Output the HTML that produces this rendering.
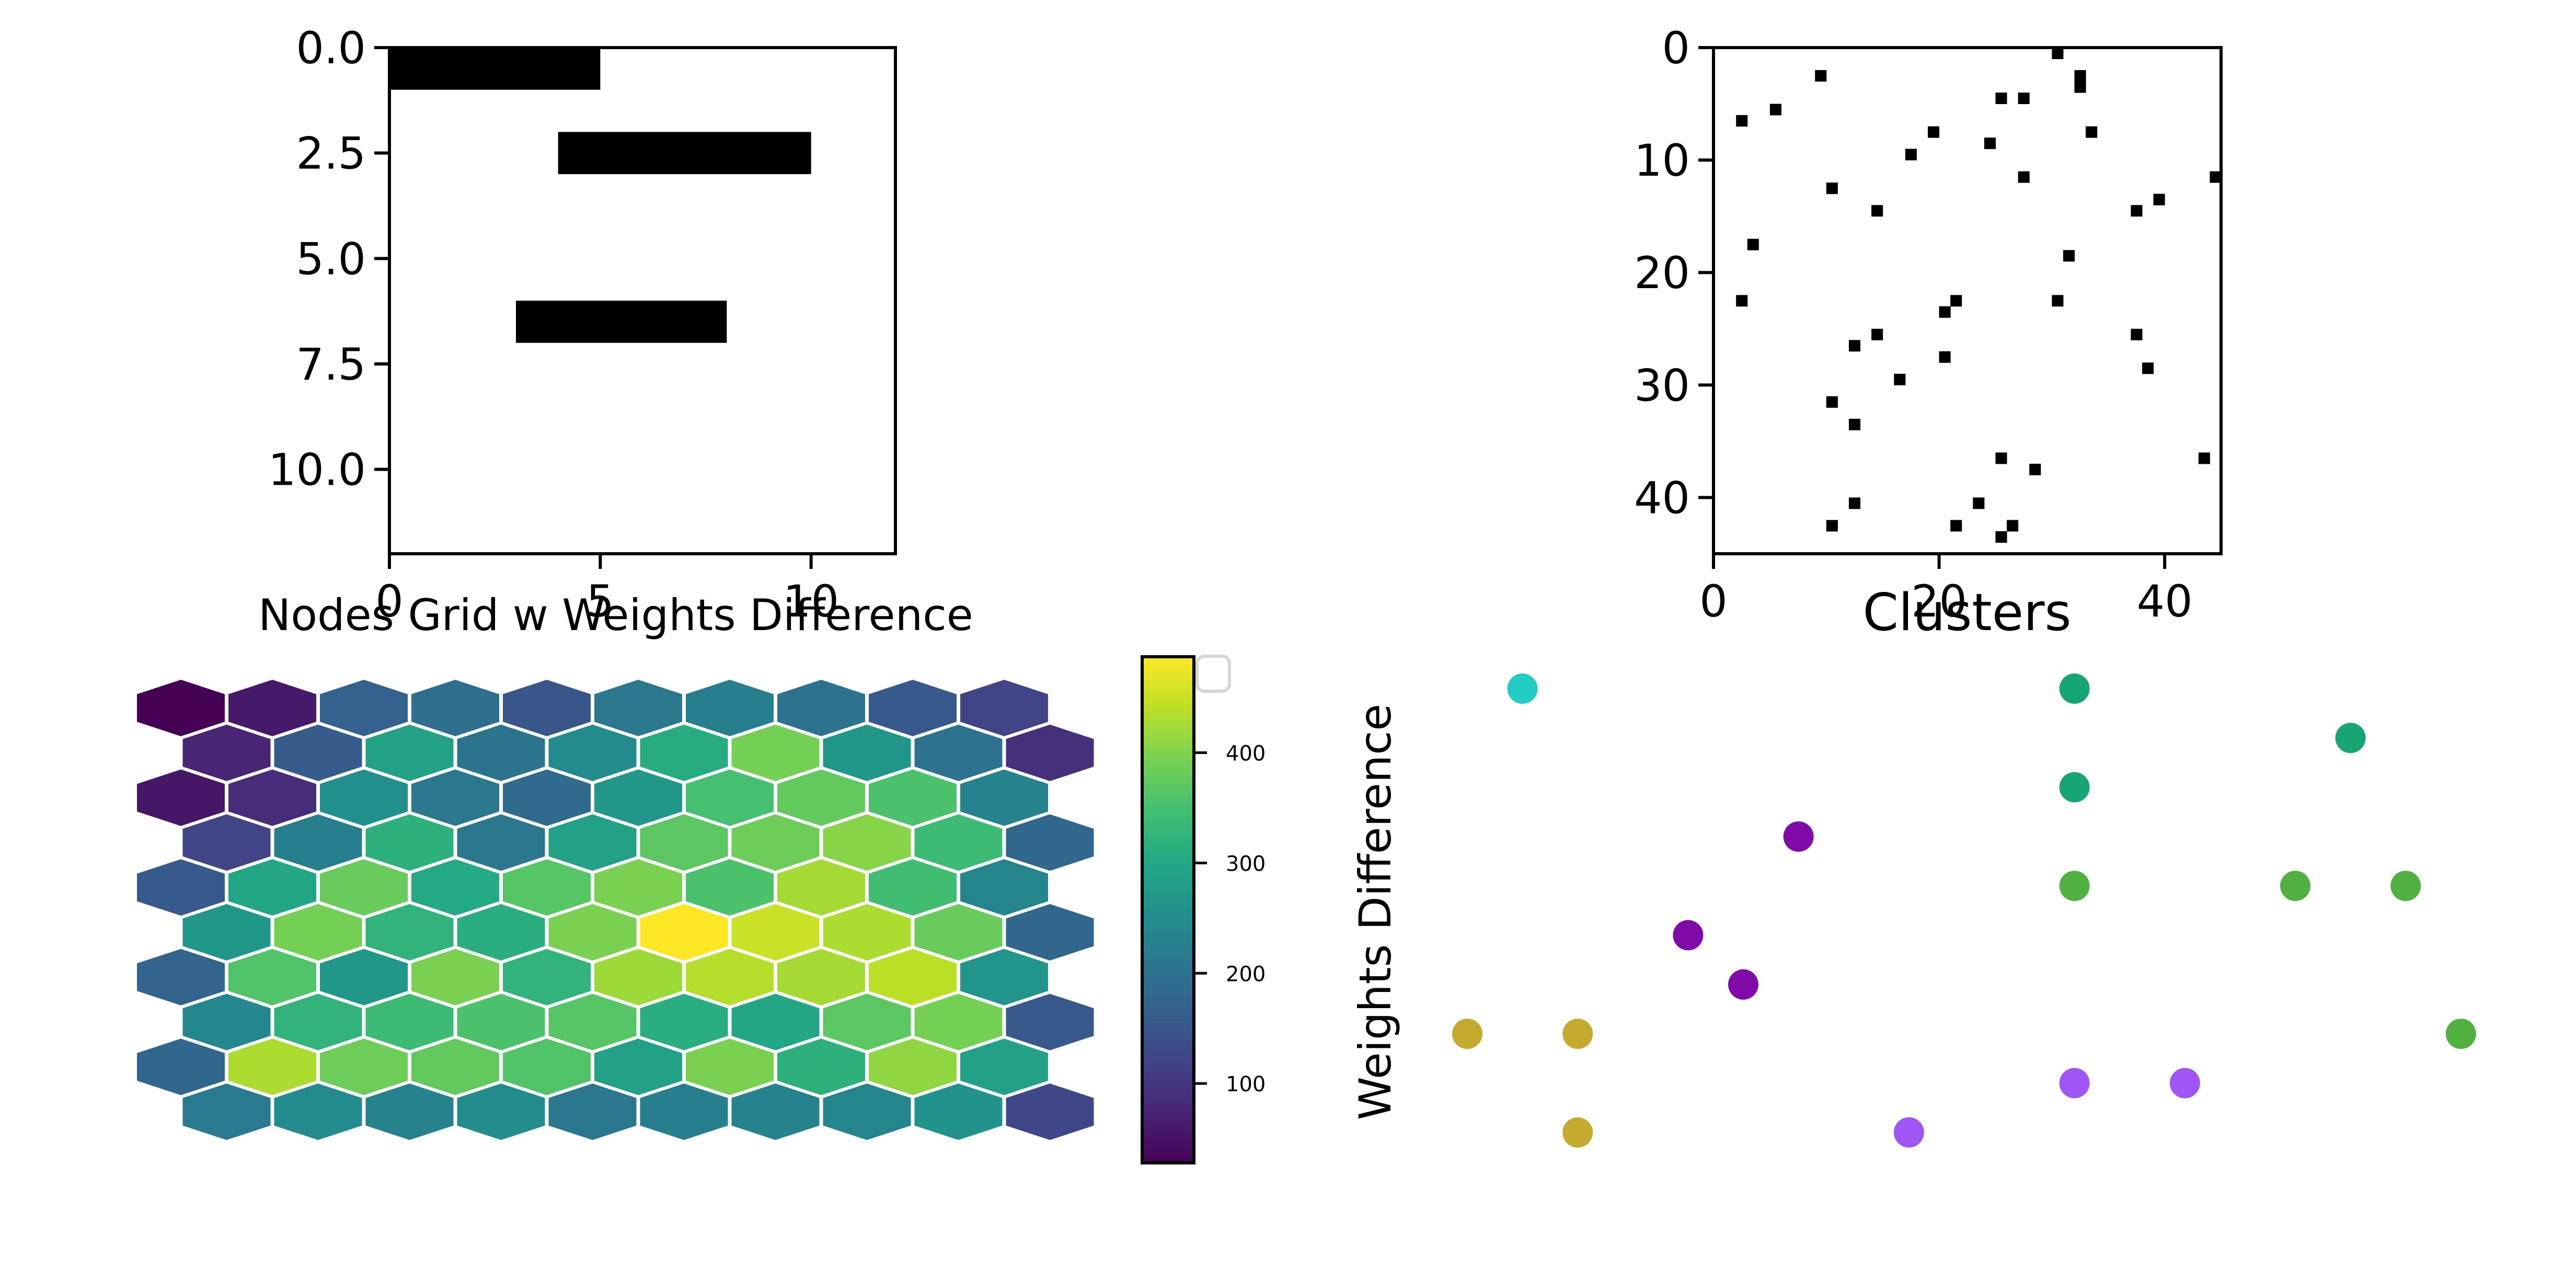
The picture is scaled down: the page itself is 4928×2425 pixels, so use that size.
<!DOCTYPE html>
<html><head><meta charset="utf-8"><style>
html,body{margin:0;padding:0;background:#fff;}
svg{display:block;font-family:"DejaVu Sans","Liberation Sans",sans-serif;}
</style></head><body>
<svg id="fig" width="4928" height="2425" viewBox="0 0 4928 2425" xmlns="http://www.w3.org/2000/svg">
<rect width="4928" height="2425" fill="#fff"/>
<g id="barsPanel"></g>
<g id="gridPanel"></g>
<g id="hexPanel"></g>
<g id="scatterPanel"></g>
</svg>
<script>
// ---- top-left segments chart data
const segStarts = [0, 4, 3];
const segEnds = [5, 10, 8];
const segRows = [0, 2, 6];
const segYTicks = ["0.0","2.5","5.0","7.5","10.0"];
const segYTickVals = [0, 2.5, 5, 7.5, 10];
const segXTicks = ["0","5","10"];
const segXTickVals = [0, 5, 10];
// ---- top-right cluster occupancy grid data
const cellCols = [30,9,32,32,25,27,5,2,19,33,24,17,27,44,10,39,14,37,3,31,2,21,30,20,14,37,12,20,38,16,10,12,25,43,28,12,23,10,21,26,25];
const cellRows = [0,2,2,3,4,4,5,6,7,7,8,9,11,11,12,13,14,14,17,18,22,22,22,23,25,25,26,27,28,29,31,33,36,36,37,40,40,42,42,42,43];
const gridYTicks = ["0","10","20","30","40"];
const gridYTickVals = [0,10,20,30,40];
const gridXTicks = ["0","20","40"];
const gridXTickVals = [0,20,40];
// ---- hex grid values (10 rows x 10 cols)
const hexRow0 = [28,60,170,195,150,210,225,200,155,120];
const hexRow1 = [75,160,290,205,245,310,390,270,200,90];
const hexRow2 = [55,85,255,210,185,270,350,375,355,230];
const hexRow3 = [120,225,320,210,290,370,385,405,340,180];
const hexRow4 = [155,300,380,305,365,395,355,425,345,235];
const hexRow5 = [270,390,325,315,395,487,450,430,380,180];
const hexRow6 = [175,360,270,395,325,420,435,425,440,265];
const hexRow7 = [240,325,340,355,365,315,300,370,390,155];
const hexRow8 = [180,430,385,375,360,290,395,320,410,290];
const hexRow9 = [215,245,230,250,210,225,230,235,260,125];
const cbTicks = ["100","200","300","400"];
const cbTickVals = [100,200,300,400];
// ---- clusters scatter data
const ptX = [1,11,16,11,6,4,5,11,15,17,18,0,2,2,11,13,8];
const ptY = [0,0,1,2,3,5,6,4,4,4,7,7,7,9,8,8,9];
const ptCluster = [0,1,1,1,2,2,2,3,3,3,3,4,4,4,5,5,5];
const clusterColors = ["#22ccc2","#17a673","#7f0aa8","#50b040","#c4aa2e","#a056f5"];

const NS="http://www.w3.org/2000/svg";
function mk(parent,tag,attrs,txt){const e=document.createElementNS(NS,tag);for(const k in attrs)e.setAttribute(k,attrs[k]);if(txt!==undefined)e.textContent=txt;parent.appendChild(e);return e;}

// ===== segments chart
(function(){
 const g=document.getElementById('barsPanel');
 const L=745,R=1713,T=91,B=1059;
 const sx=v=>L+(v/12)*(R-L), sy=v=>T+(v/12)*(B-T);
 for(let i=0;i<segStarts.length;i++){
  const r=mk(g,'rect',{x:sx(segStarts[i]),y:sy(segRows[i]),width:sx(segEnds[i])-sx(segStarts[i]),height:sy(segRows[i]+1)-sy(segRows[i]),fill:'#000'});
  
  
 }
 const fr=mk(g,'rect',{x:L,y:T,width:R-L,height:B-T,fill:'none',stroke:'#000','stroke-width':6});
 
 
 segYTickVals.forEach((v,i)=>{
  mk(g,'line',{x1:L-29,x2:L,y1:sy(v),y2:sy(v),stroke:'#000','stroke-width':6});
  const t=mk(g,'text',{x:L-45,y:sy(v)+30,'font-size':84,'text-anchor':'end'},segYTicks[i]);
  
  
 });
 segXTickVals.forEach((v,i)=>{
  mk(g,'line',{x1:sx(v),x2:sx(v),y1:B,y2:B+29,stroke:'#000','stroke-width':6});
  const t=mk(g,'text',{x:sx(v),y:B+120,'font-size':84,'text-anchor':'middle'},segXTicks[i]);
  
  
 });
})();

// ===== cluster grid
(function(){
 const g=document.getElementById('gridPanel');
 const L=3278,R=4249,T=91,B=1059;
 const sx=v=>L+(v/45)*(R-L), sy=v=>T+(v/45)*(B-T);
 for(let i=0;i<cellCols.length;i++){
  const r=mk(g,'rect',{x:sx(cellCols[i]),y:sy(cellRows[i]),width:sx(1)-sx(0)+0.5,height:sy(1)-sy(0)+0.5,fill:'#000'});
  
  
 }
 const fr=mk(g,'rect',{x:L,y:T,width:R-L,height:B-T,fill:'none',stroke:'#000','stroke-width':6});
 
 
 gridYTickVals.forEach((v,i)=>{
  mk(g,'line',{x1:L-29,x2:L,y1:sy(v),y2:sy(v),stroke:'#000','stroke-width':6});
  const t=mk(g,'text',{x:L-45,y:sy(v)+30,'font-size':84,'text-anchor':'end'},gridYTicks[i]);
  
  
 });
 gridXTickVals.forEach((v,i)=>{
  mk(g,'line',{x1:sx(v),x2:sx(v),y1:B,y2:B+29,stroke:'#000','stroke-width':6});
  const t=mk(g,'text',{x:sx(v),y:B+120,'font-size':84,'text-anchor':'middle'},gridXTicks[i]);
  
  
 });
})();

// ===== viridis
const VIR=[[68,1,84],[72,36,117],[65,68,135],[53,95,141],[42,120,142],[33,145,140],[34,168,132],[68,191,112],[122,209,81],[189,223,38],[253,231,37]];
function viridis(t){t=Math.max(0,Math.min(1,t));const p=t*(VIR.length-1);const i=Math.min(Math.floor(p),VIR.length-2);const f=p-i;const a=VIR[i],b=VIR[i+1];return 'rgb('+[0,1,2].map(k=>Math.round(a[k]+(b[k]-a[k])*f)).join(',')+')';}
const VMIN=28,VMAX=487;

// ===== hex grid
(function(){
 const g=document.getElementById('hexPanel');
 const rows=[hexRow0,hexRow1,hexRow2,hexRow3,hexRow4,hexRow5,hexRow6,hexRow7,hexRow8,hexRow9];
 const Rx=100.5,Ry=57.2;
 rows.forEach((row,r)=>{
  row.forEach((v,c)=>{
   const cx=346+175*c+(r%2?87.5:0), cy=1354+85.8*r;
   const pts=[];
   for(let k=0;k<6;k++){const a=Math.PI/2+k*Math.PI/3;pts.push((cx+Rx*Math.cos(a)).toFixed(1)+','+(cy-Ry*Math.sin(a)).toFixed(1));}
   const h=mk(g,'polygon',{points:pts.join(' '),fill:viridis((v-VMIN)/(VMAX-VMIN)),stroke:'#fff','stroke-width':6});
   
   
  });
 });
 const title=mk(g,'text',{x:1178,y:1205,'font-size':83,'text-anchor':'middle'},'Nodes Grid w Weights Difference');
 
 
 // colorbar
 const cbL=2185,cbR=2284,cbT=1256,cbB=2224;
 const defs=mk(g,'defs',{});
 const grad=mk(defs,'linearGradient',{id:'vg',x1:0,y1:1,x2:0,y2:0});
 for(let i=0;i<=20;i++)mk(grad,'stop',{offset:(i/20),'stop-color':viridis(i/20)});
 const cb=mk(g,'rect',{x:cbL,y:cbT,width:cbR-cbL,height:cbB-cbT,fill:'url(#vg)',stroke:'#000','stroke-width':6});
 
 
 const cy=v=>cbB-(v-VMIN)/(VMAX-VMIN)*(cbB-cbT);
 cbTickVals.forEach((v,i)=>{
  mk(g,'line',{x1:cbR,x2:cbR+25,y1:cy(v),y2:cy(v),stroke:'#000','stroke-width':5});
  const t=mk(g,'text',{x:2345,y:cy(v)+15,'font-size':40},cbTicks[i]);
  
  
 });
 const lg=mk(g,'rect',{x:2290,y:1255,width:62,height:67,rx:14,fill:'#fff',stroke:'#d5d5d5','stroke-width':6});
 
 
})();

// ===== scatter
(function(){
 const g=document.getElementById('scatterPanel');
 const sx=k=>2807+105.6*k, sy=r=>1317+94.3*r;
 for(let i=0;i<ptX.length;i++){
  const c=mk(g,'circle',{cx:sx(ptX[i]),cy:sy(ptY[i]),r:29,fill:clusterColors[ptCluster[i]]});
  
  
 }
 const t=mk(g,'text',{x:3763,y:1205,'font-size':98,'text-anchor':'middle'},'Clusters');
 
 
 const yl=mk(g,'text',{x:2660,y:1744,'font-size':84,'text-anchor':'middle',transform:'rotate(-90 2660 1744)'},'Weights Difference');
 
 
})();
</script>
</body></html>
